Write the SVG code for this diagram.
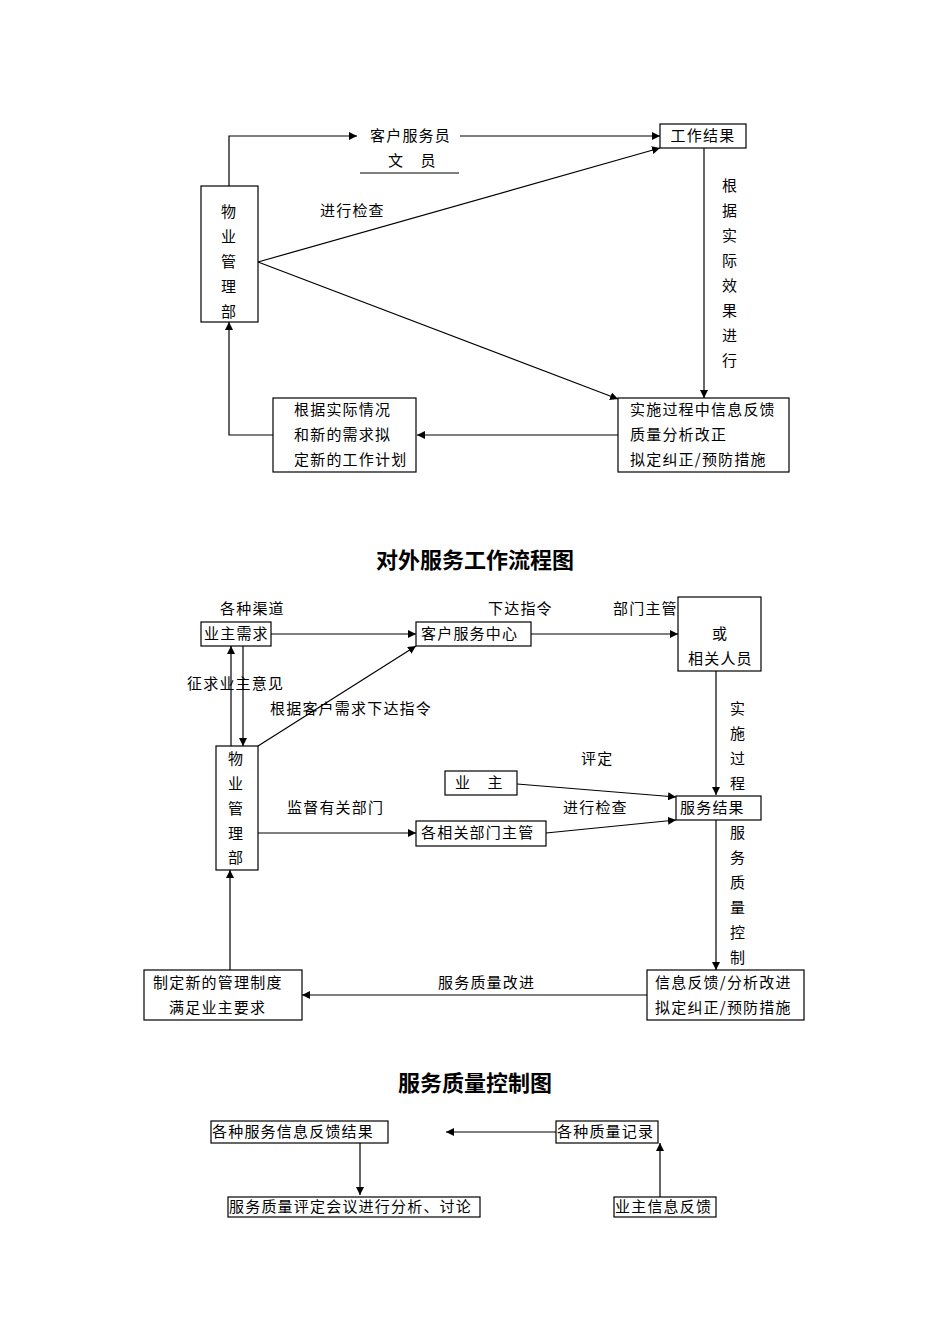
<svg xmlns="http://www.w3.org/2000/svg" width="950" height="1344" viewBox="0 0 950 1344">
<style>
text{font-family:"Noto Sans CJK SC",sans-serif;font-size:15px;fill:#000;letter-spacing:1.2px;dominant-baseline:central;transform:translateY(-2px)}
.t{font-size:22px;font-weight:bold;text-anchor:middle;letter-spacing:0}
.m{text-anchor:middle}
rect{fill:#fff;stroke:#000;stroke-width:1.2}
.c path,.c line{fill:none;stroke:#000;stroke-width:1.2}
</style>
<defs><marker id="a" viewBox="0 0 10 10" refX="10" refY="5" markerWidth="8" markerHeight="8" orient="auto-start-reverse" markerUnits="userSpaceOnUse"><path d="M0,0L10,5L0,10z" fill="#000"/></marker></defs>
<rect x="0" y="0" width="950" height="1344" style="stroke:none"/>
<g class="c">
<path d="M229,186V136H357" marker-end="url(#a)"/>
<line x1="360" y1="173" x2="459" y2="173"/>
<line x1="460" y1="136" x2="660" y2="136" marker-end="url(#a)"/>
<line x1="258" y1="262" x2="660" y2="148" marker-end="url(#a)"/>
<line x1="258" y1="262" x2="618" y2="399" marker-end="url(#a)"/>
<line x1="704" y1="148" x2="704" y2="398" marker-end="url(#a)"/>
<line x1="618" y1="435" x2="417" y2="435" marker-end="url(#a)"/>
<path d="M273,435H229V322" marker-end="url(#a)"/>
<line x1="271" y1="634" x2="416" y2="634" marker-end="url(#a)"/>
<line x1="531" y1="634" x2="678" y2="634" marker-end="url(#a)"/>
<line x1="716" y1="671" x2="716" y2="795" marker-end="url(#a)"/>
<line x1="231" y1="746" x2="231" y2="646" marker-end="url(#a)"/>
<line x1="243" y1="646" x2="243" y2="746" marker-end="url(#a)"/>
<line x1="258" y1="746" x2="416" y2="646" marker-end="url(#a)"/>
<line x1="517" y1="784" x2="676" y2="797" marker-end="url(#a)"/>
<line x1="258" y1="833" x2="416" y2="833" marker-end="url(#a)"/>
<line x1="546" y1="833" x2="676" y2="820" marker-end="url(#a)"/>
<line x1="716" y1="820" x2="716" y2="970" marker-end="url(#a)"/>
<line x1="647" y1="995" x2="302" y2="995" marker-end="url(#a)"/>
<line x1="230" y1="970" x2="230" y2="870" marker-end="url(#a)"/>
<line x1="556" y1="1132" x2="446" y2="1132" marker-end="url(#a)"/>
<line x1="360" y1="1143" x2="360" y2="1195" marker-end="url(#a)"/>
<line x1="660" y1="1197" x2="660" y2="1143" marker-end="url(#a)"/>
</g>
<g id="n1"><rect x="201" y="186" width="57" height="136"/><text class="m" x="229" y="212">物</text><text class="m" x="229" y="237">业</text><text class="m" x="229" y="262">管</text><text class="m" x="229" y="287">理</text><text class="m" x="229" y="312">部</text></g>
<g id="n2"><text x="370" y="136">客户服务员</text><text x="388" y="161">文　员</text></g>
<g id="n3"><rect x="660" y="124" width="86" height="24"/><text class="m" x="703" y="136">工作结果</text></g>
<g id="n4"><rect x="618" y="398" width="171" height="74"/><text x="630" y="410">实施过程中信息反馈</text><text x="630" y="435">质量分析改正</text><text x="630" y="460">拟定纠正/预防措施</text></g>
<g id="n5"><rect x="273" y="398" width="143" height="74"/><text x="294" y="410">根据实际情况</text><text x="294" y="435">和新的需求拟</text><text x="294" y="460">定新的工作计划</text></g>
<g id="l1"><text x="320" y="211">进行检查</text><text class="m" x="730" y="186">根</text><text class="m" x="730" y="211">据</text><text class="m" x="730" y="236">实</text><text class="m" x="730" y="261">际</text><text class="m" x="730" y="286">效</text><text class="m" x="730" y="311">果</text><text class="m" x="730" y="336">进</text><text class="m" x="730" y="361">行</text></g>
<text class="t" x="475" y="560">对外服务工作流程图</text>
<g id="m1"><rect x="201" y="622" width="70" height="24"/><text x="204" y="634">业主需求</text></g>
<g id="m2"><rect x="416" y="622" width="115" height="24"/><text x="421" y="634">客户服务中心</text></g>
<g id="m3"><rect x="678" y="597" width="83" height="74"/><text class="m" x="720" y="634">或</text><text x="688" y="659">相关人员</text></g>
<g id="m4"><rect x="216" y="746" width="42" height="124"/><text class="m" x="236" y="759">物</text><text class="m" x="236" y="784">业</text><text class="m" x="236" y="809">管</text><text class="m" x="236" y="834">理</text><text class="m" x="236" y="858">部</text></g>
<g id="m5"><rect x="445" y="771" width="72" height="24"/><text x="455" y="783">业　主</text></g>
<g id="m6"><rect x="676" y="796" width="85" height="24"/><text x="680" y="808">服务结果</text></g>
<g id="m7"><rect x="416" y="821" width="130" height="25"/><text x="421" y="833">各相关部门主管</text></g>
<g id="m8"><rect x="647" y="970" width="157" height="50"/><text x="655" y="983">信息反馈/分析改进</text><text x="655" y="1008">拟定纠正/预防措施</text></g>
<g id="m9"><rect x="144" y="970" width="158" height="50"/><text x="153" y="983">制定新的管理制度</text><text x="169" y="1008">满足业主要求</text></g>
<g id="l2"><text x="220" y="609">各种渠道</text><text x="488" y="609">下达指令</text><text x="613" y="609">部门主管</text><text x="187" y="684">征求业主意见</text><text x="270" y="709">根据客户需求下达指令</text><text x="581" y="759">评定</text><text x="287" y="808">监督有关部门</text><text x="563" y="808">进行检查</text><text x="438" y="983">服务质量改进</text>
<text class="m" x="738" y="709">实</text><text class="m" x="738" y="734">施</text><text class="m" x="738" y="759">过</text><text class="m" x="738" y="784">程</text>
<text class="m" x="738" y="833">服</text><text class="m" x="738" y="858">务</text><text class="m" x="738" y="883">质</text><text class="m" x="738" y="908">量</text><text class="m" x="738" y="933">控</text><text class="m" x="738" y="958">制</text></g>
<text class="t" x="475" y="1083">服务质量控制图</text>
<g id="k1"><rect x="211" y="1121" width="177" height="22"/><text x="212" y="1132">各种服务信息反馈结果</text></g>
<g id="k2"><rect x="556" y="1121" width="102" height="22"/><text x="557" y="1132">各种质量记录</text></g>
<g id="k3"><rect x="228" y="1197" width="252" height="20"/><text x="229" y="1207">服务质量评定会议进行分析、讨论</text></g>
<g id="k4"><rect x="614" y="1197" width="102" height="20"/><text x="615" y="1207">业主信息反馈</text></g>
</svg>
